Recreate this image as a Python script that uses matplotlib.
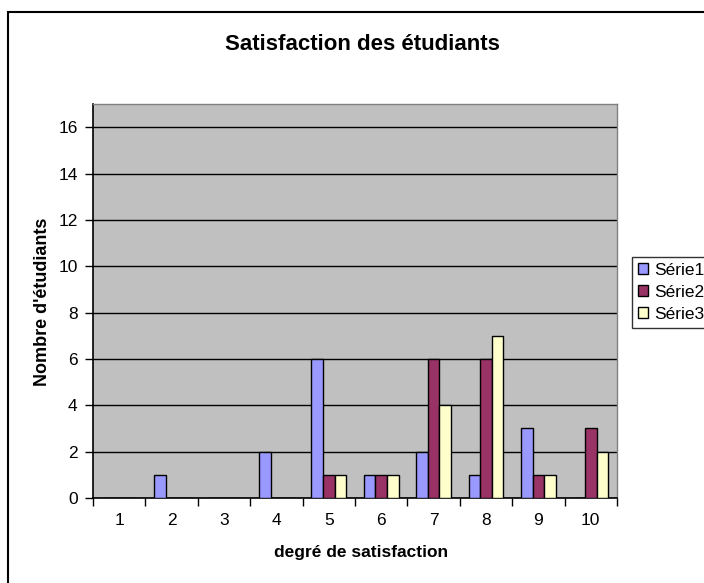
import matplotlib
matplotlib.use("Agg")
import matplotlib.pyplot as plt
import numpy as np
from matplotlib.patches import Rectangle

categories = ["1", "2", "3", "4", "5", "6", "7", "8", "9", "10"]
serie1 = [0, 1, 0, 2, 6, 1, 2, 1, 3, 0]
serie2 = [0, 0, 0, 0, 1, 1, 6, 6, 1, 3]
serie3 = [0, 0, 0, 0, 1, 1, 4, 7, 1, 2]
series_names = ["Série1", "Série2", "Série3"]
colors = ["#9999FF", "#993366", "#FFFFCC"]

plt.rcParams['font.family'] = ['Liberation Sans', 'DejaVu Sans']

W, H = 704, 583
fig = plt.figure(figsize=(W / 100, H / 100), dpi=100)

# outer chart border
fig.patches.append(Rectangle((8 / W, -0.05), 1.2, (H - 12) / H + 0.05,
                             transform=fig.transFigure, fill=False,
                             edgecolor="black", linewidth=1.5))

ax = fig.add_axes([93 / W, (H - 498) / H, 524 / W, 394 / H])
ax.set_facecolor("#C0C0C0")

x = np.arange(len(categories))
bw = 1 / 4.5
for i, (vals, name, c) in enumerate(zip([serie1, serie2, serie3], series_names, colors)):
    ax.bar(x + (i - 1) * bw, vals, width=bw, color=c, edgecolor="black",
           linewidth=1.0, label=name, zorder=3)

ax.set_xlim(-0.5, len(categories) - 0.5)
ax.set_ylim(0, 17)
ax.set_yticks(np.arange(0, 17, 2))
ax.yaxis.grid(True, color="black", linewidth=1.0, zorder=1)
ax.set_axisbelow(True)

ax.set_xticks(x)
ax.set_xticklabels(categories)
ax.set_xticks(np.arange(-0.5, len(categories), 1), minor=True)
ax.tick_params(axis="x", which="major", length=0, pad=11, labelsize=12.5)
ax.tick_params(axis="x", which="minor", length=6, width=1, direction="out")
ax.tick_params(axis="y", length=6, width=1, direction="out", labelsize=12.5, pad=5)

for s in ["top", "right"]:
    ax.spines[s].set_color("#808080")
    ax.spines[s].set_linewidth(1)
for s in ["left", "bottom"]:
    ax.spines[s].set_color("black")
    ax.spines[s].set_linewidth(1.2)

ax.set_ylabel("Nombre d'étudiants", fontsize=13, fontweight="bold")
ax.yaxis.set_label_coords((43 - 93) / 524, 0.5 + (498 - 302 - 197) / 394)
ax.set_xlabel("degré de satisfaction", fontsize=12.5, fontweight="bold")
ax.xaxis.set_label_coords((361 - 93) / 524, -(552 - 498) / 394)
ax.xaxis.label.set_va("center")
ax.yaxis.label.set_va("center")
fig.text(362 / W, 1 - 45 / H, "Satisfaction des étudiants", ha="center", va="center",
         fontsize=16, fontweight="bold")

leg = fig.legend(loc="upper left", bbox_to_anchor=(632 / W, 1 - 257 / H),
                 frameon=True, fancybox=False, edgecolor="black", fontsize=12.5,
                 handlelength=0.6, handleheight=0.6, handletextpad=0.3,
                 borderpad=0.35, labelspacing=0.4, borderaxespad=0)
leg.get_frame().set_linewidth(1)

fig.savefig("out.png", dpi=100)
